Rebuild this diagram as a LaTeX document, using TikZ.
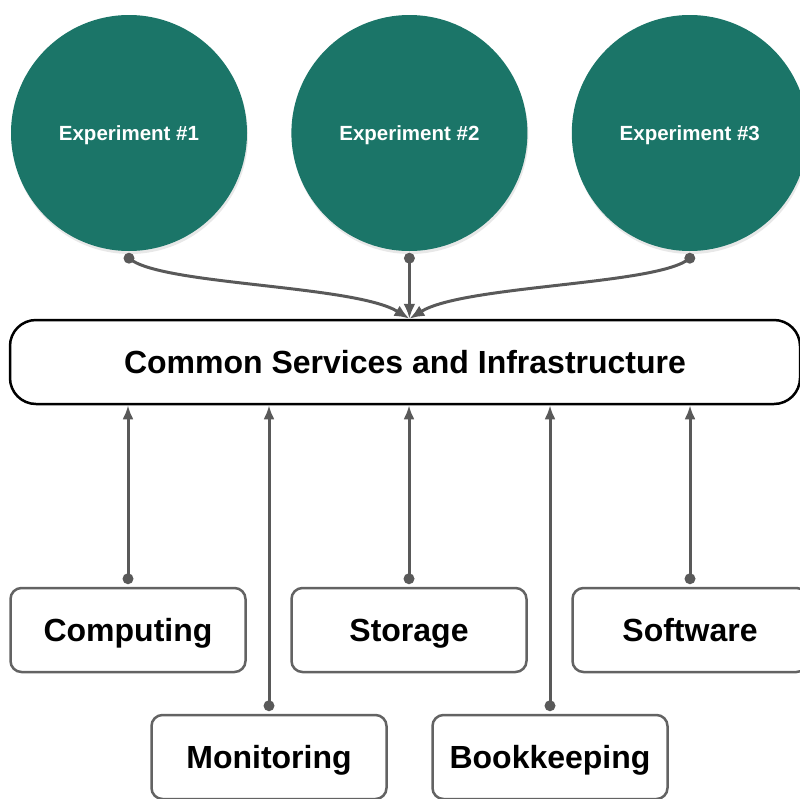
\documentclass[tikz,border=0pt]{standalone}
\usepackage{fontspec}
\setmainfont{Liberation Sans}
\usepackage{tikz}
\usetikzlibrary{arrows.meta, positioning, shadows}
\definecolor{expteal}{HTML}{1B7568}
\definecolor{linkgray}{HTML}{595959}
\definecolor{boxgray}{HTML}{636363}

\begin{document}
\begin{tikzpicture}[x=1pt, y=-1pt,
  experiment/.style={circle, fill=expteal, minimum size=236pt, inner sep=0pt, text=white,
    font=\fontsize{20.5}{24}\selectfont\bfseries, text height=14.5pt, text depth=0pt,
    drop shadow={opacity=0.18, shadow xshift=1pt, shadow yshift=-3pt}},
  service/.style={draw=boxgray, line width=2.5pt, rounded corners=11pt, minimum width=235pt,
    minimum height=84pt, font=\fontsize{32}{38}\selectfont\bfseries, text height=23pt, text depth=0pt},
  link/.style={draw=linkgray, line width=3pt, -{Latex[linkgray,length=15pt,width=12pt]}}]
\path[use as bounding box, clip] (0,0) rectangle (800,798);
% The experiments
\node[experiment] (exp1) at (129,133) {Experiment \#1};
\node[experiment, right=44pt of exp1] (exp2) {Experiment \#2};
\node[experiment, right=44pt of exp2] (exp3) {Experiment \#3};
% The common layer
\node[draw, line width=2.5pt, rounded corners=26pt, minimum width=790pt, minimum height=84pt,
  font=\fontsize{32}{38}\selectfont\bfseries, text height=23pt, text depth=0pt] (common) at (405,362)
  {Common Services and Infrastructure};
% The services
\node[service] (comp) at (128,630) {Computing};
\node[service, right=43.5pt of comp] (stor) {Storage};
\node[service, right=43.5pt of stor] (soft) {Software};
\node[service] (moni) at (269,757) {Monitoring};
\node[service, right=43.5pt of moni] (book) {Bookkeeping};
% Experiments into the common layer
\foreach \e in {exp1,exp2,exp3} {
  \coordinate (\e dot) at ([yshift=-7pt]\e.south);
  \fill[linkgray] (\e dot) circle (5.5pt);
}
\coordinate (common top) at (exp2dot |- common.north);
\draw[link] (exp1dot) .. controls +(30,27) and +(-55,-34) .. (common top);
\draw[link] (exp2dot) -- (common top);
\draw[link] (exp3dot) .. controls +(-30,27) and +(55,-34) .. (common top);
% Services up to the common layer
\foreach \s in {comp,stor,soft,moni,book} {
  \coordinate (\s dot) at ([yshift=8pt]\s.north);
  \fill[linkgray] (\s dot) circle (5.5pt);
  \draw[link, -{Latex[linkgray,length=14pt,width=11pt]}] (\s dot) -- (\s dot |- common.south);
}
\end{tikzpicture}
\end{document}
